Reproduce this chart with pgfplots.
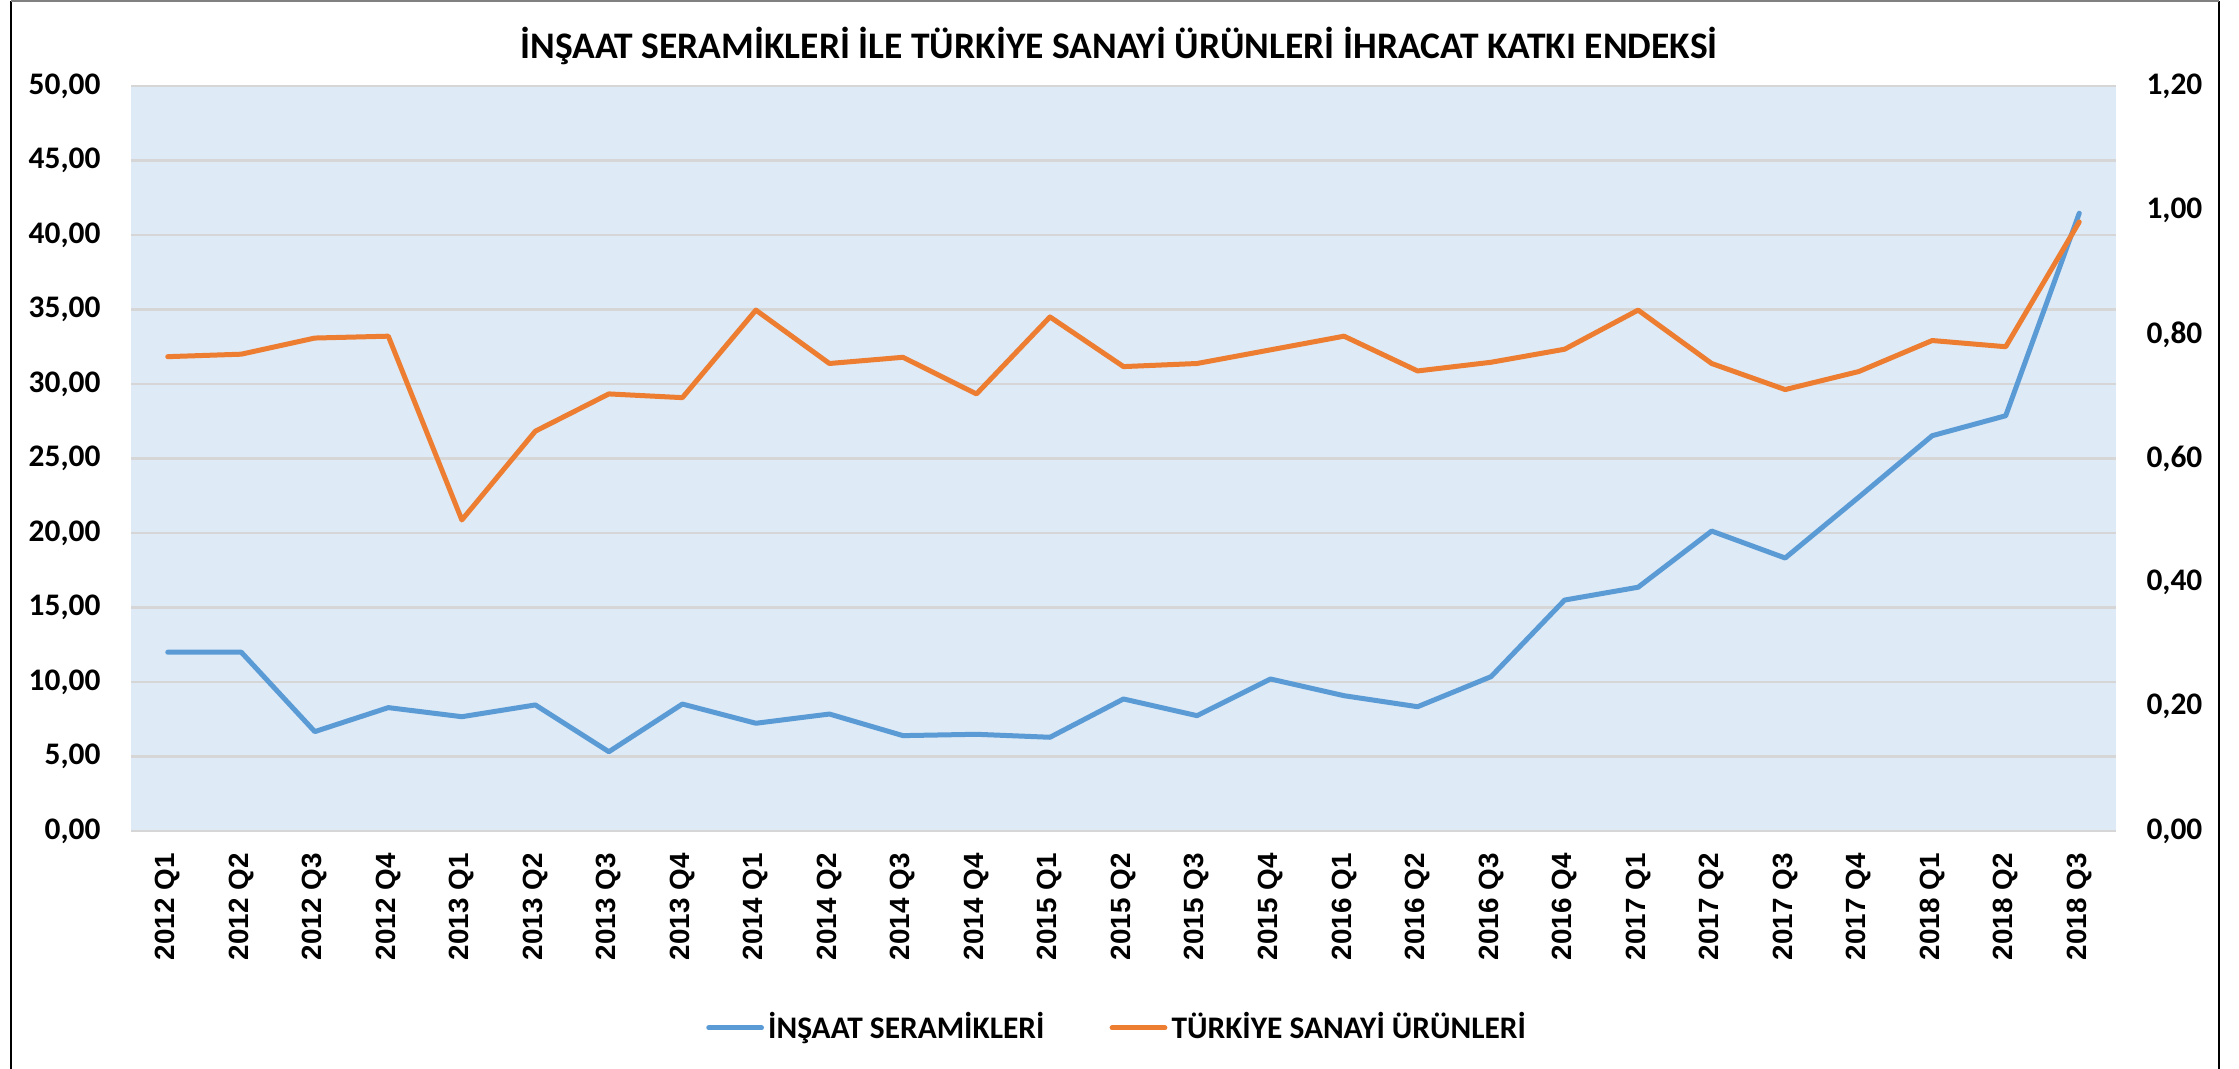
\documentclass[border=0pt]{standalone}
\usepackage{fontspec}
\usepackage{pgfplots}
\pgfplotsset{compat=1.18}
\newfontfamily\calibri{Carlito}
\newfontfamily\arialf{Liberation Sans}
\definecolor{serblue}{HTML}{5B9BD5}
\definecolor{tsorange}{HTML}{ED7D31}
\definecolor{bgblue}{HTML}{DEEAF6}
\definecolor{gridgray}{HTML}{D6D6D6}
\begin{document}
\begin{tikzpicture}
\path[use as bounding box] (0,0) rectangle (806.04pt,384.84pt);
\draw[black, line width=0.75pt] (3.96pt,0) -- (3.96pt,384.5pt);
\draw[black, line width=0.75pt] (798.8pt,0) -- (798.8pt,384.5pt);
\draw[gray, line width=0.6pt] (3.96pt,384.4pt) -- (798.8pt,384.4pt);
\node[font=\calibri\bfseries\fontsize{13.5}{16}\selectfont] at (402.8pt,368.3pt)
  {İNŞAAT SERAMİKLERİ İLE TÜRKİYE SANAYİ ÜRÜNLERİ İHRACAT KATKI ENDEKSİ};
\pgfplotsset{
  common/.style={
    at={(47.16pt,85.68pt)}, anchor=south west, scale only axis,
    width=714.6pt, height=268.2pt,
    xmin=-0.5, xmax=26.5,
    axis line style={draw=none}, major tick length=0pt,
    /pgf/number format/fixed, /pgf/number format/fixed zerofill,
    /pgf/number format/precision=2, /pgf/number format/use comma,
    /pgf/number format/assume math mode=true,
    yticklabel style={font=\calibri\bfseries\fontsize{11.3}{13}\selectfont, inner sep=0pt},
    yticklabel shift=10.8pt,
  }
}
\begin{axis}[common,
  ymin=0, ymax=50, ytick={0,5,10,15,20,25,30,35,40,45,50},
  axis background/.style={fill=bgblue},
  ymajorgrids, grid style={draw=gridgray, line width=0.75pt},
  xtick={0,...,26},
  xticklabels={2012 Q1,2012 Q2,2012 Q3,2012 Q4,2013 Q1,2013 Q2,2013 Q3,2013 Q4,2014 Q1,2014 Q2,2014 Q3,2014 Q4,2015 Q1,2015 Q2,2015 Q3,2015 Q4,2016 Q1,2016 Q2,2016 Q3,2016 Q4,2017 Q1,2017 Q2,2017 Q3,2017 Q4,2018 Q1,2018 Q2,2018 Q3},
  xticklabel style={font=\arialf\bfseries\fontsize{10}{12}\selectfont, rotate=90, anchor=east, inner sep=0pt},
  xticklabel shift=7.9pt,
]
\addplot[serblue, line width=1.8pt, line join=round, line cap=round] coordinates {
(0,12.0) (1,12.0) (2,6.67) (3,8.28) (4,7.67) (5,8.46) (6,5.32) (7,8.52)
(8,7.23) (9,7.85) (10,6.40) (11,6.49) (12,6.29) (13,8.86) (14,7.74) (15,10.2)
(16,9.08) (17,8.34) (18,10.36) (19,15.5) (20,16.36) (21,20.13) (22,18.32) (23,22.4)
(24,26.53) (25,27.87) (26,41.46)
};
\end{axis}
\begin{axis}[common,
  axis y line*=right, axis x line=none,
  ymin=0, ymax=1.2, ytick={0,0.2,0.4,0.6,0.8,1.0,1.2},
  legend style={at={(0.4973,-0.2643)}, anchor=center, draw=none, fill=none,
    legend columns=2, font=\calibri\bfseries\fontsize{11.3}{13}\selectfont,
    /tikz/every even column/.append style={column sep=22pt},
    nodes={inner sep=1.5pt}},
  legend image code/.code={\draw[#1] (0pt,0pt) -- (19pt,0pt);},
]
\addlegendimage{serblue, line width=1.8pt, line cap=round}
\addlegendentry{İNŞAAT SERAMİKLERİ}
\addplot[tsorange, line width=1.8pt, line join=round, line cap=round] coordinates {
(0,0.764) (1,0.768) (2,0.794) (3,0.797) (4,0.501) (5,0.644) (6,0.704) (7,0.698)
(8,0.839) (9,0.753) (10,0.763) (11,0.704) (12,0.828) (13,0.748) (14,0.753) (15,0.775)
(16,0.797) (17,0.741) (18,0.755) (19,0.776) (20,0.839) (21,0.753) (22,0.711) (23,0.740)
(24,0.790) (25,0.780) (26,0.981)
};
\addlegendentry{TÜRKİYE SANAYİ ÜRÜNLERİ}
\end{axis}
\end{tikzpicture}
\end{document}
